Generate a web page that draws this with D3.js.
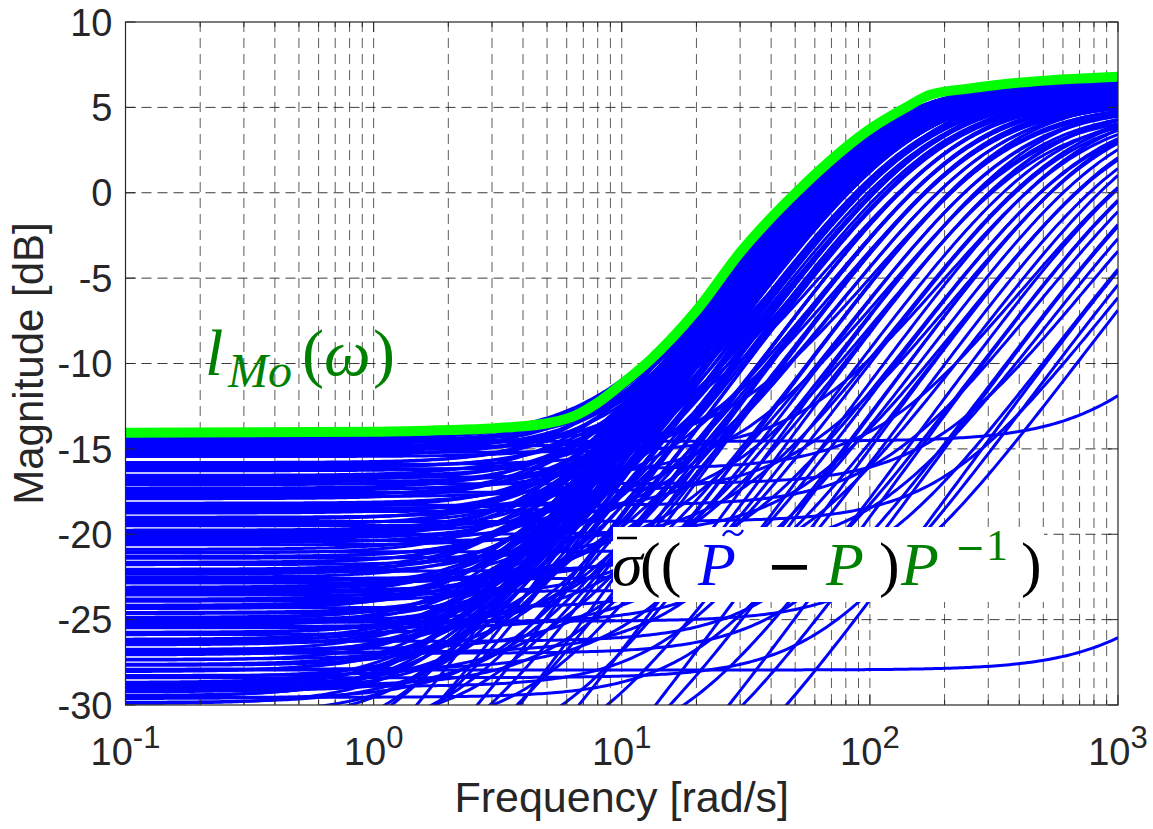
<!DOCTYPE html>
<html>
<head>
<meta charset="utf-8">
<script src="https://cdn.jsdelivr.net/npm/d3@7"></script>
<style>
  body { margin: 0; background: #fff; }
  svg { display: block; }
</style>
</head>
<body>
<svg width="1153" height="829"></svg>
<script>
// each blue curve: low-frequency level (dB), corner frequency (rad/s), high-frequency level (dB)
var lowDb = [
  -14.30,-14.40,-14.50,-14.60,-14.70,-14.80,-14.90,-15.00,-15.10,-15.20,-15.30,-15.45,
  -15.80,-15.92,-16.05,-16.17,-16.28,
  -16.55,-16.67,-16.80,-16.92,-17.04,
  -17.30,-17.42,-17.55,-17.67,-17.80,-17.92,
  -18.18,-18.30,-18.42,-18.55,-18.67,-18.76,
  -19.00,-19.12,-19.25,-19.37,-19.50,
  -19.76,-19.88,-20.00,-20.12,-20.25,-20.37,-20.50,-20.62,
  -20.88,-21.02,-21.30,-21.40,-21.64,-21.78,-22.05,-22.17,-22.28,-22.52,-22.64,-22.76,-22.86,
  -23.10,-23.22,-23.34,-23.46,-23.56,-23.80,-23.92,-24.16,-24.30,-24.58,
  -24.86,-24.98,-25.10,-25.22,-25.34,-25.48,-25.74,-25.88,
  -26.15,-26.27,-26.40,-26.48,-26.73,-26.85,-26.97,-27.07,-27.32,-27.62,
  -27.90,-28.00,-28.27,-28.40,-28.68,-28.80,-28.92,-29.05,-29.17,-29.45,-29.55,-29.85,
  -31.0,-31.5,-32.0,-33.0,-33.5,-34.0,-35.0,-36.0,-37.0,-38.0,-40.0,-42.0,
  -14.35,-14.65,-15.05,-15.38,-15.86,-16.11,-16.61,-17.10,-17.36,-17.73,
  -18.24,-18.48,-19.06,-19.44,-19.82,-20.18,-20.44,-21.10,-21.35,-21.71,
  -22.11,-22.35,-22.58,-23.16,-23.28,-23.51,-23.86,-24.22,-24.36,-24.64,
  -24.92,-25.04,-25.16,-25.28,-25.41,-25.80,-26.21,-26.33,-26.79,-26.91,
  -27.01,-27.38,-27.68,-28.05,-28.33,-28.74,-28.86,-28.98,-29.11,-29.24,
  -29.50,-29.62,-29.92,
  -30.5,-31.2,-32.5,-33.2,-34.5,-35.5,-36.5,-38.5,-39.5,-41.0,-44.0,
  -14.55,-27.95
];
var cornerW = [
  9.2,10.1,11.9,20.9,10.4,14.5,32,8.9,12.4,61.7,10.2,16.9,
  8.6,22.6,9.9,123,12.2,
  7.3,32.7,8.1,12.7,199,
  7.0,9.5,59.2,7.8,16.2,6.4,
  8.2,122,6.4,11.8,29.2,6.5,
  8.9,5.6,218,6.8,16.8,
  5.6,9.0,56,4.8,6.9,30.2,5.6,11.7,
  4.7,112,5.4,17.0,4.7,8.1,3.96,30.9,5.4,4.2,52.5,5.8,10.1,
  3.7,4.4,108,6.0,14.8,3.6,7.2,3.1,30.5,4.2,
  3.4,10.0,120,4.4,2.9,16.8,3.3,6.4,
  2.47,43.2,4.3,2.66,9.2,3.2,50,2.34,4.3,2.63,
  11.4,2.24,5.4,67.6,1.84,2.9,16.0,2.2,3.9,1.79,21,2.28,
  1.58,4.7,2.24,17.8,1.06,7.1,2.0,17.8,0.89,20,2.24,3.55,
  9.6,9.06,9.94,8.72,7.63,9.0,9.87,7.67,12.1,6.44,
  7.55,18.9,6.27,5.16,6.59,5.13,8.0,4.37,5.03,4.16,
  4.94,3.65,18.7,4.0,8.62,3.35,4.81,3.71,3.0,5.53,
  3.12,3.87,31.0,2.6,7.58,2.92,3.2,2.47,2.27,18.0,
  2.72,2.24,3.28,1.94,2.59,2.1,6.42,1.78,2.72,2.06,
  1.6,3.3,1.73,
  1.88,3.09,1.26,5.5,1.33,2.37,8.4,1.06,0.53,7.94,0.79,
  1050,1300
];
var highDb = [
  6.5,6.3,6.0,5.5,6.4,5.8,5.0,6.2,6.1,4.8,6.4,5.6,
  6.3,5.2,6.0,5.0,6.2,
  6.5,4.6,6.1,5.9,5.5,
  6.4,6.0,5.0,6.3,5.4,6.2,
  5.8,5.2,6.5,5.7,4.5,6.0,
  6.1,6.4,5.0,6.2,5.3,
  6.3,5.9,4.8,6.5,6.0,5.1,6.2,5.6,
  6.4,5.3,6.1,5.0,6.3,5.8,6.5,4.7,6.0,6.2,5.4,5.9,5.5,
  6.4,6.1,5.0,5.8,4.9,6.3,5.6,6.5,5.1,6.0,
  6.2,5.2,5.5,5.9,6.4,4.8,6.1,5.5,
  6.3,5.0,5.8,6.2,5.1,6.0,5.3,6.4,5.7,6.1,
  4.9,6.3,5.4,5.0,6.5,5.9,5.2,6.1,5.6,6.3,4.9,6.0,
  6.2,5.5,5.9,5.0,6.4,5.2,5.7,5.0,6.1,4.5,5.4,5.3,
  6.4,6.5,6.2,6.3,6.5,6.1,5.9,6.3,5.7,6.4,
  6.0,5.3,6.2,6.5,5.9,6.3,5.6,6.4,6.1,6.3,
  5.9,6.5,5.0,6.2,5.4,6.4,5.8,6.1,6.5,5.6,
  6.3,5.9,5.1,6.5,5.3,6.2,6.0,6.4,6.5,4.9,
  6.1,6.4,5.7,6.5,6.0,6.2,5.2,6.4,5.8,6.1,
  6.5,5.5,6.3,
  6.1,5.6,6.3,5.1,6.0,5.4,5.0,5.8,6.2,4.8,5.5,
  0,-15
];

// green upper bound l_Mo(w)
var boundW  = [0.1, 1, 2, 3, 4, 5, 6.5, 8, 10, 13, 20, 30, 52, 103, 140, 176, 250, 400, 1000];
var boundDb = [-14.05, -14.0, -13.9, -13.8, -13.68, -13.5, -13.05, -12.3, -11.2, -9.8, -6.9, -3.5, 0.2, 3.85, 5.0, 5.75, 6.1, 6.45, 6.8];

var yTicks = [-30, -25, -20, -15, -10, -5, 0, 5, 10];
var xDecades = [0.1, 1, 10, 100, 1000];
var xExponents = ["-1", "0", "1", "2", "3"];

var svg = d3.select("svg"),
    margin = {top: 22, right: 35, bottom: 124, left: 125.5},
    width = +svg.attr("width") - margin.left - margin.right,
    height = +svg.attr("height") - margin.top - margin.bottom;

var x = d3.scaleLog().domain([0.1, 1000]).range([0, width]),
    y = d3.scaleLinear().domain([-30, 10]).range([height, 0]);

var ink = "#262626";

svg.append("defs").append("clipPath").attr("id", "plotclip")
  .append("rect").attr("width", width).attr("height", height);

var g = svg.append("g")
    .attr("transform", "translate(" + margin.left + "," + margin.top + ")");

// grid
var xGrid = x.ticks().filter(function(d) { return d > 0.1 && d < 1000; });
g.append("g").selectAll("line")
  .data(xGrid)
  .enter().append("line")
    .attr("x1", function(d) { return x(d); })
    .attr("x2", function(d) { return x(d); })
    .attr("y1", 0).attr("y2", height)
    .style("stroke", ink)
    .style("stroke-opacity", 0.75)
    .style("stroke-width", 1)
    .style("stroke-dasharray", "10,6");

g.append("g").selectAll("line")
  .data(yTicks.filter(function(d) { return d > -30 && d < 10; }))
  .enter().append("line")
    .attr("x1", 0).attr("x2", width)
    .attr("y1", function(d) { return y(d); })
    .attr("y2", function(d) { return y(d); })
    .style("stroke", ink)
    .style("stroke-opacity", 0.9)
    .style("stroke-width", 1)
    .style("stroke-dasharray", "10,6");

// blue family
function magDb(c, w) {
  var wp = c.wz * Math.pow(10, (c.H - c.L) / 20);
  return c.L + 10 * Math.log10(1 + (w / c.wz) * (w / c.wz))
             - 10 * Math.log10(1 + (w / wp) * (w / wp));
}

var curves = lowDb.map(function(L, i) {
  return {L: L, wz: cornerW[i], H: highDb[i]};
});
var freqs = d3.range(0, 321).map(function(i) { return Math.pow(10, -1 + i * 4 / 320); });

var line = d3.line()
    .x(function(d) { return x(d.w); })
    .y(function(d) { return y(d.v); });

g.append("g")
    .attr("clip-path", "url(#plotclip)")
  .selectAll("path")
  .data(curves)
  .enter().append("path")
    .attr("d", function(c) {
      return line(freqs.map(function(w) { return {w: w, v: magDb(c, w)}; }));
    })
    .style("fill", "none")
    .style("stroke", "#0000ff")
    .style("stroke-width", 3);

// green bound
var bound = boundW.map(function(w, i) { return {w: w, v: boundDb[i]}; });
g.append("path")
    .datum(bound)
    .attr("clip-path", "url(#plotclip)")
    .attr("d", line.curve(d3.curveMonotoneX))
    .style("fill", "none")
    .style("stroke", "#00ff00")
    .style("stroke-width", 10)
    .style("stroke-linejoin", "round");

// l_Mo(w) label
var lab1 = g.append("text")
    .attr("y", 375 - margin.top)
    .style("font-family", "'Liberation Serif', 'DejaVu Serif', serif")
    .style("font-size", "66px")
    .style("fill", "#008000");
lab1.append("tspan").attr("x", 205 - margin.left).style("font-style", "italic").text("l");
lab1.append("tspan").attr("x", 228 - margin.left).attr("dy", 12)
    .style("font-style", "italic").style("font-size", "48px").text("Mo");
lab1.append("tspan").attr("x", 302 - margin.left).attr("dy", -12).text("(");
lab1.append("tspan").attr("x", 324 - margin.left).style("font-style", "italic").text("ω");
lab1.append("tspan").attr("x", 373 - margin.left).text(")");

// sigma label with white box
var bx = 613 - margin.left, by = 527 - margin.top;
g.append("rect")
    .attr("x", bx).attr("y", by)
    .attr("width", 431).attr("height", 75)
    .style("fill", "#fff");

var lab2 = g.append("text")
    .attr("y", 585 - margin.top)
    .style("font-family", "'Liberation Serif', 'DejaVu Serif', serif")
    .style("font-size", "62px")
    .style("fill", "#000");
lab2.append("tspan").attr("x", 612 - margin.left).style("font-style", "italic").text("σ");
lab2.append("tspan").attr("x", 640 - margin.left).text("((");
lab2.append("tspan").attr("x", 698 - margin.left).style("font-style", "italic")
    .style("fill", "#0000ff").text("P");
lab2.append("tspan").attr("x", 766 - margin.left)
    .style("font-family", "'DejaVu Sans', sans-serif").style("font-size", "56px").text("−");
lab2.append("tspan").attr("x", 826 - margin.left).style("font-style", "italic")
    .style("fill", "#008000").text("P");
lab2.append("tspan").attr("x", 879 - margin.left).text(")");
lab2.append("tspan").attr("x", 901 - margin.left).style("font-style", "italic")
    .style("fill", "#008000").text("P");
lab2.append("tspan").attr("x", 955 - margin.left).attr("dy", -25)
    .style("font-family", "'DejaVu Sans', sans-serif").style("font-size", "36px")
    .style("fill", "#008000").text("−");
lab2.append("tspan").attr("x", 986 - margin.left)
    .style("font-size", "44px").style("fill", "#008000").text("1");
lab2.append("tspan").attr("x", 1021 - margin.left).attr("dy", 25).text(")");

// bar over sigma, tilde over P
g.append("line")
    .attr("x1", 617 - margin.left).attr("x2", 637 - margin.left)
    .attr("y1", 538 - margin.top).attr("y2", 538 - margin.top)
    .style("stroke", "#000").style("stroke-width", 2.5);
g.append("path")
    .attr("transform", "translate(" + (723 - margin.left) + "," + (533 - margin.top) + ")")
    .attr("d", "M0,3 C3,-3 7,-3 10,0 S17,3 20,-3")
    .style("fill", "none")
    .style("stroke", "#0000ff")
    .style("stroke-width", 2.2);

// axes box and ticks
g.append("rect")
    .attr("width", width).attr("height", height)
    .style("fill", "none").style("stroke", ink).style("stroke-width", 1.2);

var xAll = x.ticks();
var isMajor = function(d) { return xDecades.indexOf(d) >= 0; };
g.append("g").selectAll("path")
  .data(xAll)
  .enter().append("path")
    .attr("d", function(d) {
      var len = isMajor(d) ? 10 : 5, px = x(d);
      return "M" + px + "," + height + "v" + (-len) + "M" + px + ",0v" + len;
    })
    .style("stroke", ink).style("stroke-width", 1);

g.append("g").selectAll("path")
  .data(yTicks)
  .enter().append("path")
    .attr("d", function(d) {
      return "M0," + y(d) + "h10M" + width + "," + y(d) + "h-10";
    })
    .style("stroke", ink).style("stroke-width", 1);

// tick labels
g.append("g").selectAll("text")
  .data(yTicks)
  .enter().append("text")
    .attr("x", -13)
    .attr("y", function(d) { return y(d); })
    .attr("dy", "0.36em")
    .attr("text-anchor", "end")
    .style("font-family", "'Liberation Sans', Arial, sans-serif")
    .style("font-size", "38px")
    .style("fill", ink)
    .text(function(d) { return d; });

var xl = g.append("g").selectAll("text")
  .data(xDecades)
  .enter().append("text")
    .attr("x", function(d) { return x(d); })
    .attr("y", height + 60)
    .attr("text-anchor", "middle")
    .style("font-family", "'Liberation Sans', Arial, sans-serif")
    .style("font-size", "38px")
    .style("fill", ink);
xl.append("tspan").text("10");
xl.append("tspan")
    .attr("dy", -17)
    .style("font-size", "31px")
    .text(function(d, i) { return xExponents[i]; });

// axis titles
g.append("text")
    .attr("x", width / 2)
    .attr("y", height + 107)
    .attr("text-anchor", "middle")
    .style("font-family", "'Liberation Sans', Arial, sans-serif")
    .style("font-size", "43px")
    .style("fill", ink)
    .text("Frequency [rad/s]");

g.append("text")
    .attr("transform", "translate(" + (43 - margin.left) + "," + (height / 2) + ") rotate(-90)")
    .attr("text-anchor", "middle")
    .style("font-family", "'Liberation Sans', Arial, sans-serif")
    .style("font-size", "42px")
    .style("fill", ink)
    .text("Magnitude [dB]");
</script>
</body>
</html>
